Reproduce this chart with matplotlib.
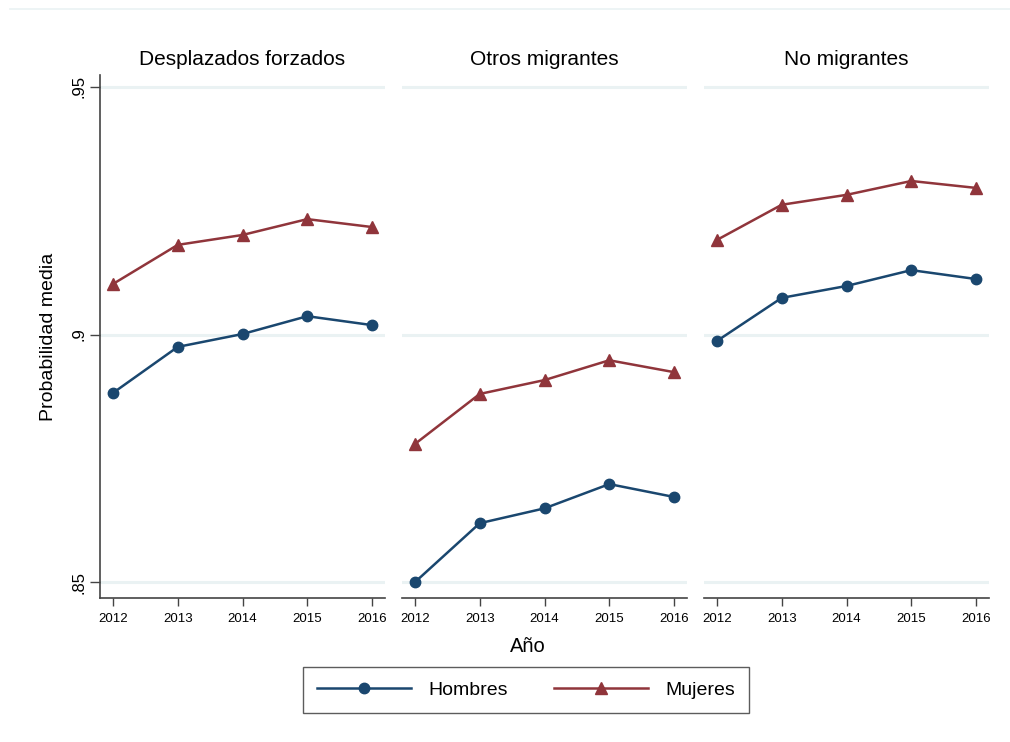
import numpy as np
import matplotlib
matplotlib.use("Agg")
import matplotlib.pyplot as plt
from matplotlib.lines import Line2D

plt.rcParams['font.family'] = ['Liberation Sans', 'DejaVu Sans']

# Datos: probabilidad media por grupo, sexo y año
years = [2012, 2013, 2014, 2015, 2016]
groups = ["Desplazados forzados", "Otros migrantes", "No migrantes"]
hombres = [
    [0.8882, 0.8975, 0.9001, 0.9037, 0.9019],
    [0.8500, 0.8619, 0.8649, 0.8698, 0.8672],
    [0.8987, 0.9074, 0.9098, 0.9130, 0.9112],
]
mujeres = [
    [0.9102, 0.9181, 0.9201, 0.9233, 0.9217],
    [0.8779, 0.8880, 0.8908, 0.8948, 0.8924],
    [0.9191, 0.9262, 0.9282, 0.9310, 0.9296],
]
yticks = [0.85, 0.90, 0.95]
ytick_labels = [".85", ".9", ".95"]

NAVY = "#1a476f"
MAROON = "#90353b"
GRID = "#eaf2f3"
AXIS = "#444444"

W, H = 1010, 742
fig = plt.figure(figsize=(W / 100, H / 100), dpi=100)

# linea tenue superior del marco del grafico
fig.add_artist(Line2D([10 / W, 1.0], [1 - 9 / H, 1 - 9 / H], color=GRID, lw=1.2))

lefts = [100, 402, 704]
panel_w = 285
bottom_px, top_px = 598, 75

axes = []
for i, name in enumerate(groups):
    ax = fig.add_axes([lefts[i] / W, 1 - bottom_px / H, panel_w / W, (bottom_px - top_px) / H])
    axes.append(ax)
    for yv in yticks:
        ax.axhline(yv, color=GRID, lw=2.2, zorder=0)
    ax.plot(years, hombres[i], color=NAVY, lw=1.8, marker="o", ms=7.5, zorder=3)
    ax.plot(years, mujeres[i], color=MAROON, lw=1.8, marker="^", ms=8.5, zorder=3)
    ax.set_xlim(2011.8, 2016.2)
    ax.set_ylim(0.8468, 0.9524)
    ax.set_xticks(years)
    ax.set_xticklabels([str(y) for y in years], fontsize=9.5)
    ax.tick_params(axis="x", direction="out", length=6, width=1, color=AXIS, pad=5)
    for s in ["top", "right"]:
        ax.spines[s].set_visible(False)
    ax.spines["bottom"].set_color(AXIS)
    ax.spines["bottom"].set_linewidth(1.2)
    ax.set_title(name, fontsize=15, pad=7)
    if i == 0:
        ax.set_yticks(yticks)
        ax.set_yticklabels(ytick_labels, fontsize=12, rotation=90, va="center")
        ax.tick_params(axis="y", direction="out", length=7, width=1, color=AXIS, pad=3)
        ax.spines["left"].set_color(AXIS)
        ax.spines["left"].set_linewidth(1.2)
        ax.set_ylabel("Probabilidad media", fontsize=14, labelpad=10)
    else:
        ax.spines["left"].set_visible(False)
        ax.set_yticks([])

fig.text(528 / W, 1 - 646 / H, "Año", fontsize=14.5, ha="center", va="center")

handles = [
    Line2D([], [], color=NAVY, lw=1.8, marker="o", ms=7.5),
    Line2D([], [], color=MAROON, lw=1.8, marker="^", ms=8.5),
]
leg = fig.legend(handles, ["Hombres", "Mujeres"], loc="center",
                 bbox_to_anchor=(526 / W, 1 - 690 / H), ncol=2, fontsize=14,
                 frameon=True, fancybox=False, edgecolor="#333333",
                 handlelength=4.8, handletextpad=0.9, columnspacing=2.4,
                 borderpad=0.75, borderaxespad=0)
leg.get_frame().set_linewidth(1.0)

fig.savefig("out.png", dpi=100, facecolor="white")
